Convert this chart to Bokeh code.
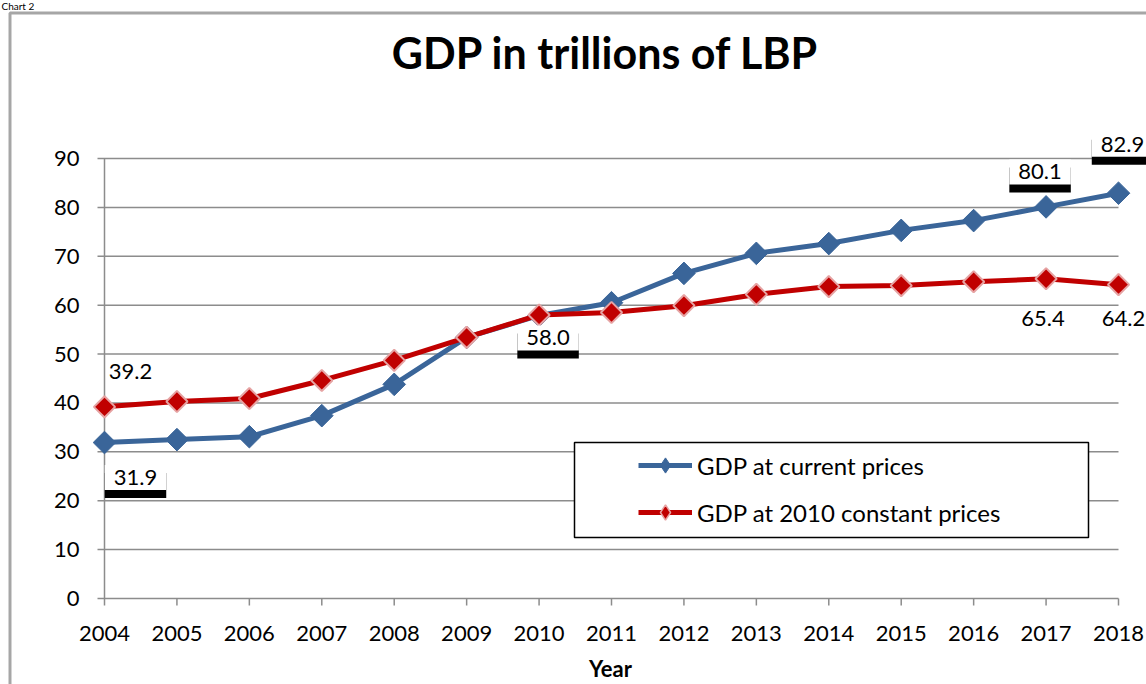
import numpy as np
from bokeh.plotting import figure
from bokeh.models import (Range1d, Label, BoxAnnotation, Legend, LegendItem)
from bokeh.core.properties import value
from bokeh.embed import file_html
from bokeh.resources import INLINE

# ---------------- data ----------------
years = list(range(2004, 2019))
gdp_current = [31.9, 32.5, 33.1, 37.4, 43.8, 53.4, 57.9, 60.5, 66.5, 70.6,
               72.6, 75.3, 77.3, 80.1, 82.9]
gdp_constant = [39.2, 40.3, 40.9, 44.6, 48.7, 53.4, 58.0, 58.5, 59.9, 62.2,
                63.8, 64.0, 64.8, 65.4, 64.2]
y_ticks = list(range(0, 100, 10))
year_labels = [str(y) for y in years]
y_tick_labels = [str(t) for t in y_ticks]
title_text = "GDP in trillions of LBP"
x_title = "Year"
caption_text = "Chart 2"
series_names = ["GDP at current prices", "GDP at 2010 constant prices"]

# ---------------- style / layout ----------------
W, H = 1146, 684
FONT = "Lato"
BLUE = "#3A6599"
RED = "#C00000"
RED_EDGE = "#E6A3A3"
GRID = "#8C8C8C"
# pixel positions of the plotting area (axis at 2004 / 0, grid top at 90)
PX_LEFT, PX_RIGHT = 104, 1118      # years[0] .. years[-1]
PX_BOTTOM, PX_TOP = 598, 158       # y_ticks[0] .. y_ticks[-1]
SX = (PX_RIGHT - PX_LEFT) / (years[-1] - years[0])
SY = (PX_BOTTOM - PX_TOP) / (y_ticks[-1] - y_ticks[0])
X0 = years[0] - PX_LEFT / SX
X1 = X0 + W / SX
Y0 = y_ticks[0] - (H - PX_BOTTOM) / SY
Y1 = Y0 + H / SY


def px_x(px):
    return X0 + px / SX


def px_y(py):
    return Y0 + (H - py) / SY


p = figure(width=W, height=H, output_backend="svg", toolbar_location=None,
           x_range=Range1d(X0, X1), y_range=Range1d(Y0, Y1),
           min_border=0)
p.axis.visible = False
p.grid.visible = False
p.outline_line_color = None
p.background_fill_color = "white"
p.border_fill_color = "white"

# outer chart border + caption
p.line(x=[px_x(9.5), px_x(9.5), px_x(W + 20)],
       y=[px_y(H + 20), px_y(12.5), px_y(12.5)],
       line_color="#A6A6A6", line_width=3)
p.text(x=[px_x(1)], y=[px_y(5)], text=[caption_text], text_font=value(FONT),
       text_font_size="10px", text_color="black", text_align="left",
       text_baseline="middle")

# gridlines (with short outward tick stubs) and axis lines
p.segment(x0=[px_x(97)] * len(y_ticks), y0=y_ticks,
          x1=[years[-1]] * len(y_ticks), y1=y_ticks,
          line_color=GRID, line_width=1.5)
p.segment(x0=[years[0]], y0=[y_ticks[0]], x1=[years[0]], y1=[y_ticks[-1]],
          line_color=GRID, line_width=1.5)
p.segment(x0=years, y0=[y_ticks[0]] * len(years), x1=years,
          y1=[px_y(PX_BOTTOM + 7)] * len(years),
          line_color=GRID, line_width=1.5)

# tick labels
p.text(x=[px_x(79)] * len(y_ticks), y=y_ticks, text=y_tick_labels,
       text_font=value(FONT), text_font_size="22px", text_color="black",
       text_align="right", text_baseline="middle")
p.text(x=years, y=[px_y(633)] * len(years), text=year_labels,
       text_font=value(FONT), text_font_size="22px", text_color="black",
       text_align="center", text_baseline="middle")
p.text(x=[px_x(610)], y=[px_y(668)], text=[x_title], text_font=value(FONT),
       text_font_size="22px", text_font_style="bold", text_color="black",
       text_align="center", text_baseline="middle")

# title
p.text(x=[px_x(605)], y=[px_y(52)], text=[title_text], text_font=value(FONT),
       text_font_size="43px", text_font_style="bold", text_align="center",
       text_baseline="middle", text_color="black")

# series
bl = p.line(years, gdp_current, line_color=BLUE, line_width=5)
p.scatter(years, gdp_current, marker="square", angle=np.pi / 4, size=16,
          fill_color=BLUE, line_color=BLUE, line_width=1)
rl = p.line(years, gdp_constant, line_color=RED, line_width=5)
p.scatter(years, gdp_constant, marker="square", angle=np.pi / 4, size=15,
          fill_color=RED, line_color=RED_EDGE, line_width=2)
# legend-only diamond glyphs (hidden in the plot)
bleg = p.scatter(years, gdp_current, marker="diamond", size=16,
                 fill_color=BLUE, line_color=BLUE, visible=False)
rleg = p.scatter(years, gdp_constant, marker="diamond", size=16,
                 fill_color=RED, line_color=RED_EDGE, line_width=1.5,
                 visible=False)

# data labels: (series, index, x offset px, y offset px, boxed)
label_specs = [
    (gdp_current, 0, 31, -35, True),
    (gdp_constant, 0, 26, 35, False),
    (gdp_constant, 6, 9, -23, True),
    (gdp_current, 13, -6, 35, True),
    (gdp_current, 14, 4, 49, True),
    (gdp_constant, 13, -3, -40, False),
    (gdp_constant, 14, 5, -34, False),
]
pad = dict(left=9, right=9, top=5, bottom=5)
for series, i, dx, dy, boxed in label_specs:
    txt = f"{series[i]:.1f}"
    common = dict(x=years[i], y=series[i], text=txt, text_font=FONT,
                  text_font_size="22px", text_align="center",
                  text_baseline="middle")
    if boxed:
        p.add_layout(Label(x_offset=dx, y_offset=dy - 12, text_color="#777777",
                           text_alpha=0, background_fill_color="#777777",
                           background_fill_alpha=0.5, padding=pad, **common))
        p.add_layout(Label(x_offset=dx, y_offset=dy - 8, text_color="black",
                           background_fill_color="black", padding=pad,
                           **common))
        p.add_layout(Label(x_offset=dx, y_offset=dy, text_color="black",
                           background_fill_color="white", padding=pad,
                           **common))
    else:
        p.add_layout(Label(x_offset=dx, y_offset=dy, text_color="black",
                           **common))

# legend frame + legend
p.add_layout(BoxAnnotation(left=px_x(574), right=px_x(1088), top=px_y(442),
                           bottom=px_y(537), fill_color="white", fill_alpha=1,
                           line_color="black", line_alpha=1, line_width=1.5))
legend = Legend(items=[LegendItem(label=series_names[0], renderers=[bl, bleg]),
                       LegendItem(label=series_names[1], renderers=[rl, rleg])],
                location=(638, H - 531), border_line_color=None,
                background_fill_alpha=0, padding=0, margin=0, spacing=9,
                glyph_width=54, glyph_height=38, label_standoff=5,
                label_text_font=FONT, label_text_font_size="24px",
                label_text_color="black", inactive_fill_alpha=0)
p.add_layout(legend)

open("out.html", "w").write(file_html(p, INLINE))
